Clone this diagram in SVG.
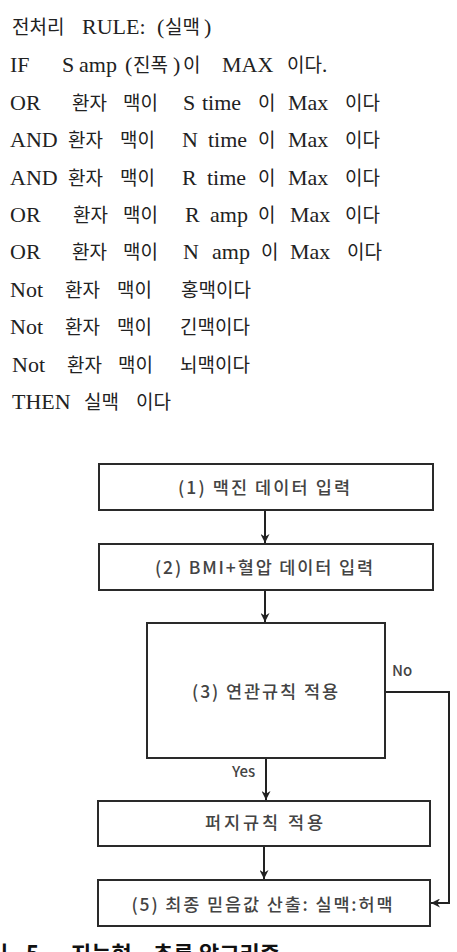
<svg xmlns="http://www.w3.org/2000/svg" width="457" height="952" viewBox="0 0 457 952">
<style>
.t{font-family:"Liberation Serif","Noto Sans CJK KR",serif;font-size:22px;fill:#222}
.k{font-family:"Noto Sans CJK KR",sans-serif;font-size:19px}
.box{fill:#fff;stroke:#2a2a2a;stroke-width:2}
.bt{font-family:"Noto Sans CJK KR",sans-serif;font-size:17.5px;font-weight:500;fill:#444;text-anchor:middle}
.lb{font-family:"Noto Sans CJK KR",sans-serif;font-size:15px;font-weight:500;fill:#444}
.c{fill:none;stroke:#222;stroke-width:2}
.cap{font-family:"Noto Sans CJK KR",sans-serif;font-weight:bold;font-size:22px;fill:#111}
</style>
<defs>
<marker id="ah" viewBox="0 0 10 10" refX="10" refY="5" markerWidth="9" markerHeight="9" markerUnits="userSpaceOnUse" orient="auto">
<path d="M0,0 L10,5 L0,10 L3,5 z" fill="#222"/>
</marker>
</defs>

<g id="rule-text">
<text class="t" y="34"><tspan class="k" x="12">전처리</tspan><tspan x="82">RULE:</tspan><tspan x="157">(</tspan><tspan class="k" x="165">실맥</tspan><tspan x="204">)</tspan></text>
<text class="t" y="72"><tspan x="10">IF</tspan><tspan x="62">S</tspan><tspan x="79">amp</tspan><tspan x="125">(</tspan><tspan class="k" x="133">진폭</tspan><tspan x="173">)</tspan><tspan class="k" x="183">이</tspan><tspan x="222">MAX</tspan><tspan class="k" x="287">이다.</tspan></text>
<text class="t" y="110"><tspan x="10">OR</tspan><tspan class="k" x="72">환자</tspan><tspan class="k" x="123">맥이</tspan><tspan x="183">S</tspan><tspan x="202">time</tspan><tspan class="k" x="258">이</tspan><tspan x="288">Max</tspan><tspan class="k" x="345">이다</tspan></text>
<text class="t" y="147"><tspan x="10">AND</tspan><tspan class="k" x="68">환자</tspan><tspan class="k" x="120">맥이</tspan><tspan x="182">N</tspan><tspan x="208">time</tspan><tspan class="k" x="258">이</tspan><tspan x="288">Max</tspan><tspan class="k" x="345">이다</tspan></text>
<text class="t" y="185"><tspan x="10">AND</tspan><tspan class="k" x="68">환자</tspan><tspan class="k" x="120">맥이</tspan><tspan x="182">R</tspan><tspan x="207">time</tspan><tspan class="k" x="258">이</tspan><tspan x="288">Max</tspan><tspan class="k" x="345">이다</tspan></text>
<text class="t" y="222"><tspan x="10">OR</tspan><tspan class="k" x="73">환자</tspan><tspan class="k" x="123">맥이</tspan><tspan x="185">R</tspan><tspan x="210">amp</tspan><tspan class="k" x="258">이</tspan><tspan x="290">Max</tspan><tspan class="k" x="345">이다</tspan></text>
<text class="t" y="259"><tspan x="10">OR</tspan><tspan class="k" x="72">환자</tspan><tspan class="k" x="123">맥이</tspan><tspan x="183">N</tspan><tspan x="212">amp</tspan><tspan class="k" x="261">이</tspan><tspan x="290">Max</tspan><tspan class="k" x="347">이다</tspan></text>
<text class="t" y="297"><tspan x="10">Not</tspan><tspan class="k" x="65">환자</tspan><tspan class="k" x="117">맥이</tspan><tspan class="k" x="181">홍맥이다</tspan></text>
<text class="t" y="334"><tspan x="10">Not</tspan><tspan class="k" x="65">환자</tspan><tspan class="k" x="117">맥이</tspan><tspan class="k" x="180">긴맥이다</tspan></text>
<text class="t" y="372"><tspan x="12">Not</tspan><tspan class="k" x="67">환자</tspan><tspan class="k" x="118">맥이</tspan><tspan class="k" x="180">뇌맥이다</tspan></text>
<text class="t" y="409"><tspan x="12">THEN</tspan><tspan class="k" x="84">실맥</tspan><tspan class="k" x="136">이다</tspan></text>
</g>

<g id="connectors">
<path class="c" d="M265,511 V543" marker-end="url(#ah)"/>
<path class="c" d="M265,591 V622" marker-end="url(#ah)"/>
<path class="c" d="M266,759 V800" marker-end="url(#ah)"/>
<path class="c" d="M264,847 V879" marker-end="url(#ah)"/>
<path class="c" d="M386,692 H449 V903 H431" marker-end="url(#ah)"/>
<text class="lb" x="392" y="676">No</text>
<text class="lb" x="232" y="777">Yes</text>
</g>

<g id="node1">
<rect class="box" x="99" y="464" width="334" height="46"/>
<text class="bt" x="264" y="494" textLength="172" lengthAdjust="spacing">(1) 맥진 데이터 입력</text>
</g>
<g id="node2">
<rect class="box" x="99" y="544" width="334" height="46"/>
<text class="bt" x="264" y="574" textLength="218" lengthAdjust="spacing">(2) BMI+혈압 데이터 입력</text>
</g>
<g id="node3">
<rect class="box" x="147" y="623" width="238" height="135"/>
<text class="bt" x="265" y="698" textLength="146" lengthAdjust="spacing">(3) 연관규칙 적용</text>
</g>
<g id="node4">
<rect class="box" x="98" y="801" width="332" height="45"/>
<text class="bt" x="264" y="829" textLength="118" lengthAdjust="spacing">퍼지규칙 적용</text>
</g>
<g id="node5">
<rect class="box" x="98" y="880" width="332" height="46"/>
<text class="bt" x="262" y="911" textLength="261" lengthAdjust="spacing">(5) 최종 믿음값 산출: 실맥:허맥</text>
</g>

<g id="caption">
<text class="cap" y="962"><tspan x="-12">림</tspan><tspan x="26">5.</tspan><tspan x="71">지능형</tspan><tspan x="153">추론</tspan><tspan x="199">알고리즘</tspan></text>
</g>
</svg>
